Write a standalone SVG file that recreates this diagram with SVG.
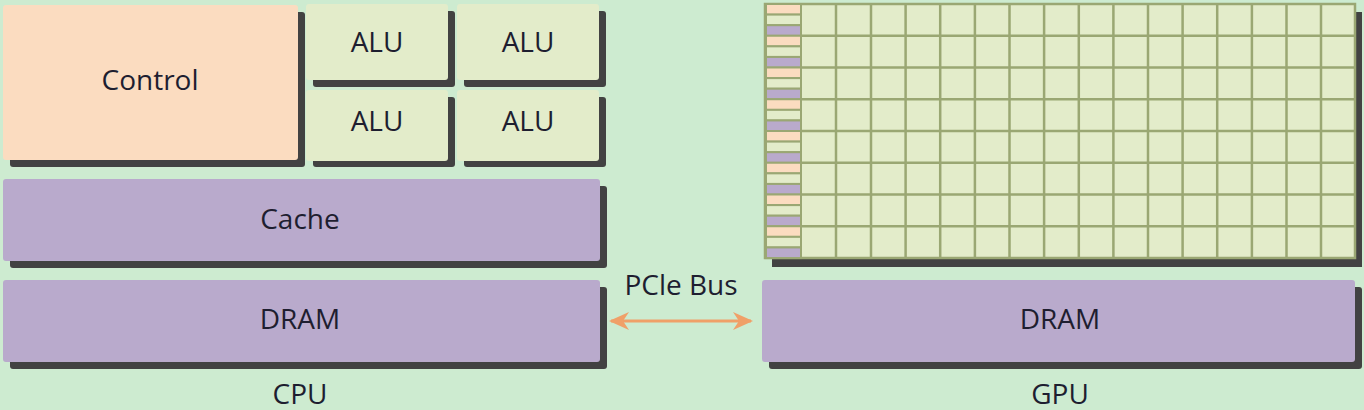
<svg xmlns="http://www.w3.org/2000/svg" width="1364" height="410" viewBox="0 0 1364 410">
<defs>
<style>
.sh{fill:#424242}
.t{font-family:"Open Sans","Liberation Sans",sans-serif;font-size:28px;fill:#1e1e30;text-anchor:middle}
.ctl{fill:#fbdcc0}
.alu{fill:#e3ecca}
.mem{fill:#b9aacc}
.gl{stroke:#9aa773;stroke-width:2.5;fill:none}
.co{fill:#fbdcc0;stroke:#9aa773;stroke-width:2}
.cg{fill:#e3ecca;stroke:#9aa773;stroke-width:2}
.cp{fill:#b9aacc;stroke:#9aa773;stroke-width:2}
</style>
<marker id="ah" viewBox="0 0 20 20" refX="18" refY="10" markerWidth="20" markerHeight="20" markerUnits="userSpaceOnUse" orient="auto-start-reverse">
<path d="M0,1 L20,10 L0,19 L6,10 Z" fill="#f0a068"/>
</marker>
</defs>
<rect width="1364" height="410" fill="#cdebd0"/>

<g id="control">
<rect class="sh" x="10" y="12" width="295" height="155" rx="3"/>
<rect class="ctl" x="3" y="5" width="295" height="155" rx="3"/>
<text class="t" x="150" y="90">Control</text>
</g>
<g id="alu1">
<rect class="sh" x="313" y="11" width="142" height="76" rx="3"/>
<rect class="alu" x="306" y="4" width="142" height="76" rx="3"/>
<text class="t" x="377" y="52">ALU</text>
</g>
<g id="alu2">
<rect class="sh" x="464" y="11" width="142" height="76" rx="3"/>
<rect class="alu" x="457" y="4" width="142" height="76" rx="3"/>
<text class="t" x="528" y="52">ALU</text>
</g>
<g id="alu3">
<rect class="sh" x="313" y="97" width="142" height="70" rx="3"/>
<rect class="alu" x="306" y="90" width="142" height="71" rx="3"/>
<text class="t" x="377" y="131">ALU</text>
</g>
<g id="alu4">
<rect class="sh" x="464" y="97" width="142" height="70" rx="3"/>
<rect class="alu" x="457" y="90" width="142" height="71" rx="3"/>
<text class="t" x="528" y="131">ALU</text>
</g>
<g id="cache">
<rect class="sh" x="10" y="186" width="597" height="82" rx="3"/>
<rect class="mem" x="3" y="179" width="597" height="82" rx="3"/>
<text class="t" x="300" y="229">Cache</text>
</g>
<g id="cpu-dram">
<rect class="sh" x="10" y="287" width="597" height="82" rx="3"/>
<rect class="mem" x="3" y="280" width="597" height="82" rx="3"/>
<text class="t" x="300" y="329">DRAM</text>
</g>
<text class="t" x="300" y="404">CPU</text>

<g id="gpu-cores">
<rect class="sh" x="772" y="12" width="590" height="255"/>
<rect x="765" y="4" width="590" height="254" fill="#e3ecca"/>
<g class="gl">
<path d="M836,4V258M871,4V258M905.6,4V258M940.2,4V258M974.9,4V258M1009.5,4V258M1044.1,4V258M1078.8,4V258M1113.4,4V258M1148,4V258M1182.6,4V258M1217.2,4V258M1251.9,4V258M1286.5,4V258M1321,4V258"/>
<path d="M801,35.75H1355M801,67.5H1355M801,99.25H1355M801,131H1355M801,162.75H1355M801,194.5H1355M801,226.25H1355"/>
<rect x="765" y="4" width="590" height="254"/>
</g>
<g>
<rect class="co" x="766" y="4" width="35" height="10.6"/><rect class="cg" x="766" y="14.6" width="35" height="10.6"/><rect class="cp" x="766" y="25.2" width="35" height="10.6"/>
<rect class="co" x="766" y="35.75" width="35" height="10.6"/><rect class="cg" x="766" y="46.35" width="35" height="10.6"/><rect class="cp" x="766" y="56.95" width="35" height="10.6"/>
<rect class="co" x="766" y="67.5" width="35" height="10.6"/><rect class="cg" x="766" y="78.1" width="35" height="10.6"/><rect class="cp" x="766" y="88.7" width="35" height="10.6"/>
<rect class="co" x="766" y="99.25" width="35" height="10.6"/><rect class="cg" x="766" y="109.85" width="35" height="10.6"/><rect class="cp" x="766" y="120.45" width="35" height="10.6"/>
<rect class="co" x="766" y="131" width="35" height="10.6"/><rect class="cg" x="766" y="141.6" width="35" height="10.6"/><rect class="cp" x="766" y="152.2" width="35" height="10.6"/>
<rect class="co" x="766" y="162.75" width="35" height="10.6"/><rect class="cg" x="766" y="173.35" width="35" height="10.6"/><rect class="cp" x="766" y="183.95" width="35" height="10.6"/>
<rect class="co" x="766" y="194.5" width="35" height="10.6"/><rect class="cg" x="766" y="205.1" width="35" height="10.6"/><rect class="cp" x="766" y="215.7" width="35" height="10.6"/>
<rect class="co" x="766" y="226.25" width="35" height="10.6"/><rect class="cg" x="766" y="236.85" width="35" height="10.6"/><rect class="cp" x="766" y="247.45" width="35" height="10.6"/>
</g>
</g>
<g id="gpu-dram">
<rect class="sh" x="769" y="287" width="593" height="82" rx="3"/>
<rect class="mem" x="762" y="280" width="593" height="82" rx="3"/>
<text class="t" x="1060" y="329">DRAM</text>
</g>
<text class="t" x="1060" y="404">GPU</text>

<g id="connectors">
<line x1="611" y1="321" x2="751" y2="321" stroke="#f0a068" stroke-width="3" marker-start="url(#ah)" marker-end="url(#ah)"/>
<text class="t" x="681" y="295">PCle Bus</text>
</g>
</svg>
